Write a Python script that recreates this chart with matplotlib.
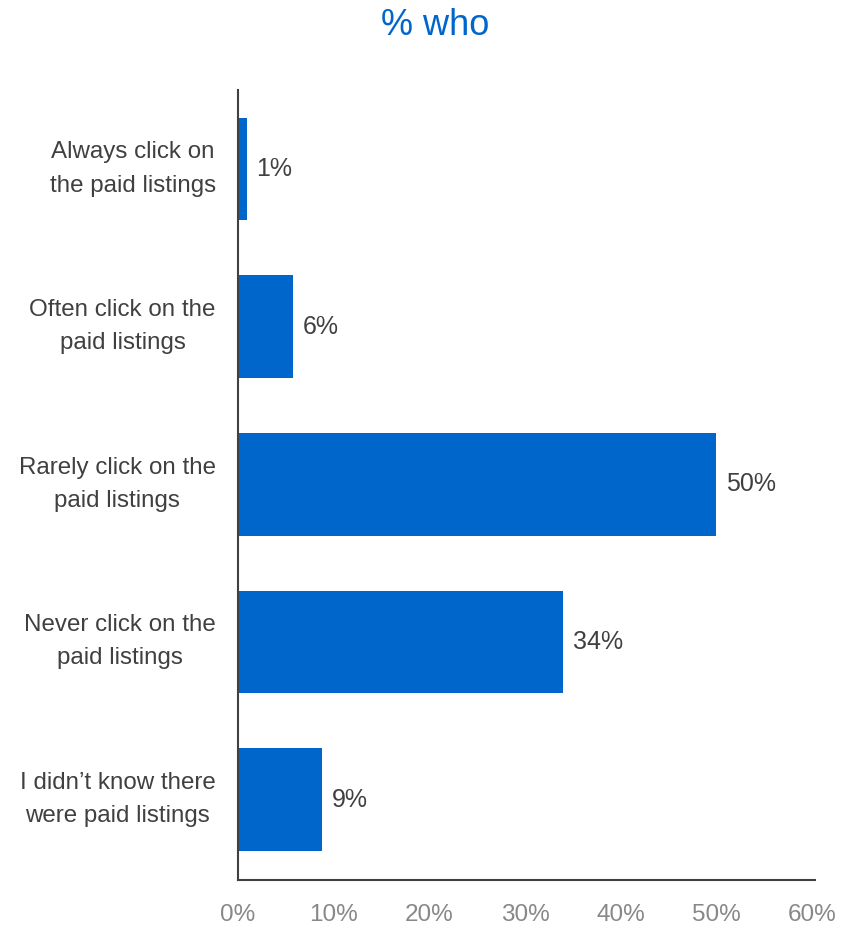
import numpy as np
import matplotlib.pyplot as plt

categories = [
    "Always click on\nthe paid listings",
    "Often click on the\npaid listings",
    "Rarely click on the\npaid listings",
    "Never click on the\npaid listings",
    "I didn\u2019t know there\nwere paid listings",
]
values = [0.9, 5.8, 50.0, 34.0, 8.8]
value_labels = ["1%", "6%", "50%", "34%", "9%"]
xticks = [0, 10, 20, 30, 40, 50, 60]

blue = "#0066CC"
dark = "#404040"
grey = "#888888"

plt.rcParams['font.family'] = ['Liberation Sans', 'DejaVu Sans']

fig = plt.figure(figsize=(8.56, 9.27), dpi=100)
ax = fig.add_axes([0.278, 0.0507, 0.674, 0.852])

y = np.arange(len(categories))
ax.barh(y, values, height=0.65, color=blue)

for yi, v, lab in zip(y, values, value_labels):
    ax.annotate(lab, (v, yi), xytext=(7, 0), textcoords='offset points',
                ha='left', va='center', fontsize=18, color=dark)

ax.set_ylim(len(categories) - 0.49, -0.5)
ax.set_xlim(0, 60.3)
ax.set_yticks(y)
ax.set_yticklabels(categories, fontsize=17.4, color=dark, ha='right',
                   multialignment='center', va='center')
for t in ax.get_yticklabels():
    t.set_linespacing(1.65)
ax.set_xticks(xticks)
ax.set_xticklabels([f"{t}%" for t in xticks], fontsize=17.5, color=grey)
ax.tick_params(axis='y', length=0, pad=16)
ax.tick_params(axis='x', length=0, pad=17)

for s in ['top', 'right']:
    ax.spines[s].set_visible(False)
for s in ['left', 'bottom']:
    ax.spines[s].set_color(dark)
    ax.spines[s].set_linewidth(1.5)

fig.text(0.508, 0.972, "% who", ha='center', va='center', fontsize=26, color=blue)

fig.savefig("out.png", dpi=100)
